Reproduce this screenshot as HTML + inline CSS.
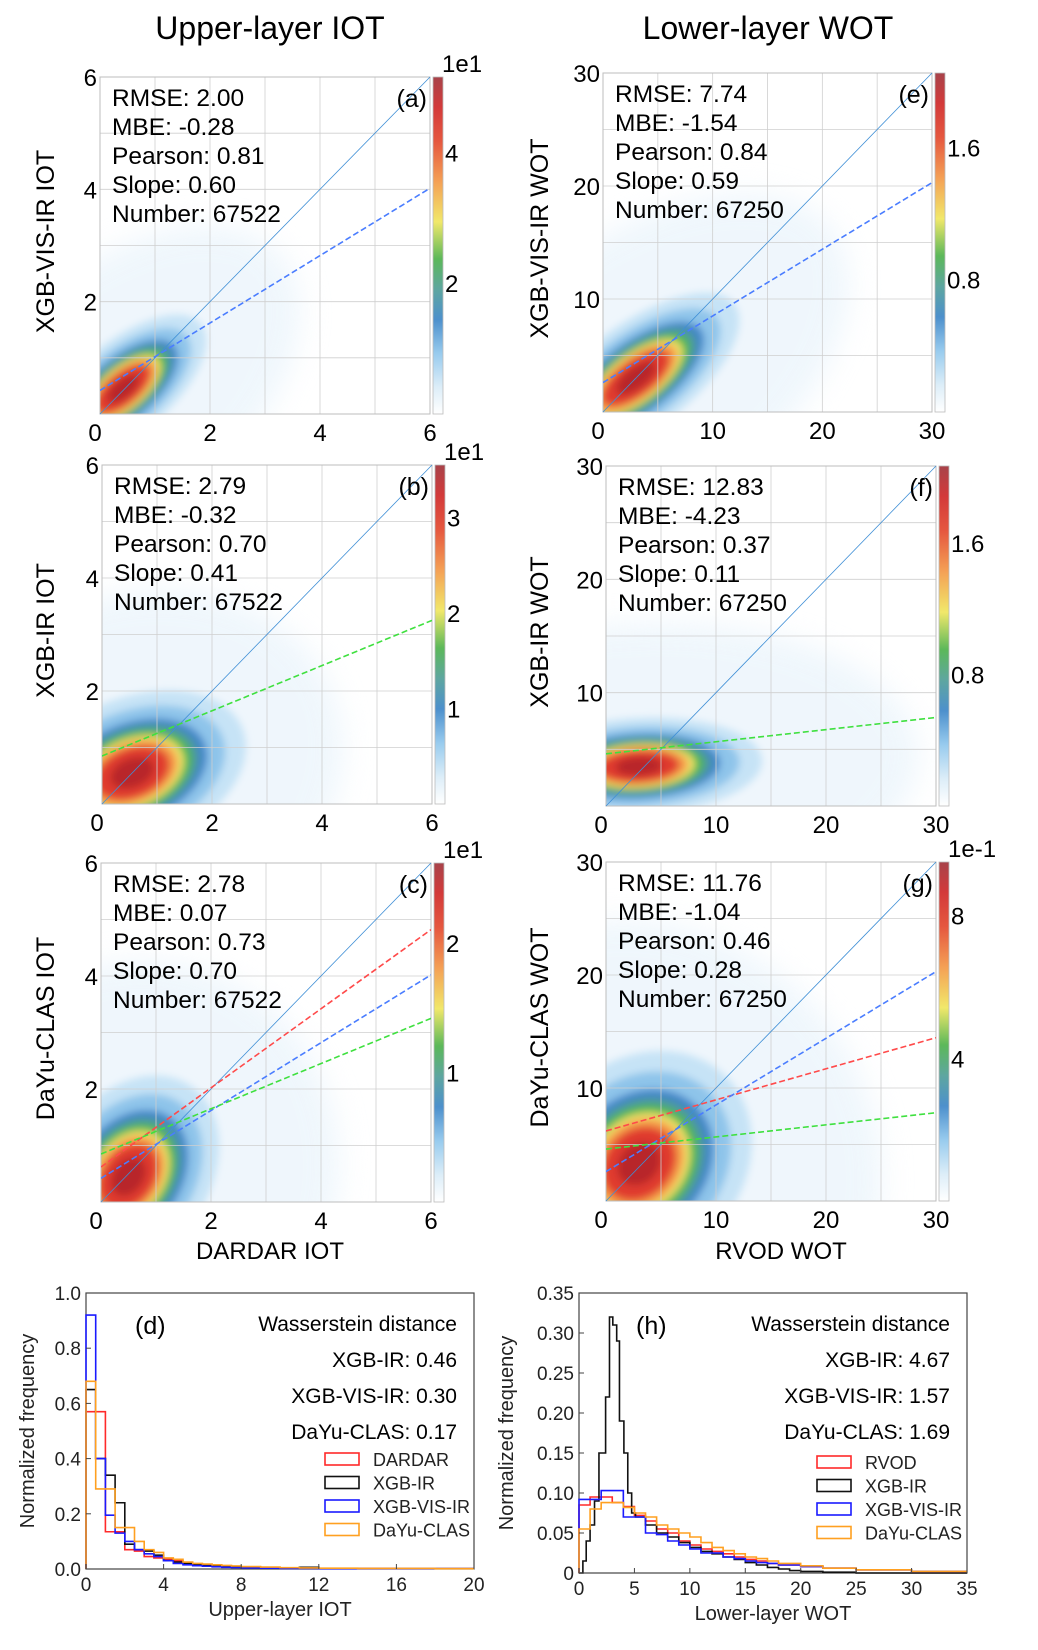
<!DOCTYPE html>
<html><head><meta charset="utf-8">
<style>
html,body{margin:0;padding:0;background:#fff;}
svg{display:block;font-family:"Liberation Sans",Arial,sans-serif;}
</style></head>
<body>
<svg id="fig" width="1038" height="1650" viewBox="0 0 1038 1650">
<defs>
<linearGradient id="cmap" x1="0" y1="1" x2="0" y2="0">
<stop offset="0" stop-color="#ffffff"/>
<stop offset="0.08" stop-color="#dcedf8"/>
<stop offset="0.18" stop-color="#98cbee"/>
<stop offset="0.28" stop-color="#4d90cc"/>
<stop offset="0.37" stop-color="#5ea6a0"/>
<stop offset="0.46" stop-color="#5cb85a"/>
<stop offset="0.57" stop-color="#f1e86a"/>
<stop offset="0.69" stop-color="#f4a055"/>
<stop offset="0.81" stop-color="#e5573f"/>
<stop offset="0.91" stop-color="#d33a3a"/>
<stop offset="1" stop-color="#a8434a"/>
</linearGradient>
<filter id="blur" x="-50%" y="-50%" width="200%" height="200%"><feGaussianBlur stdDeviation="4"/></filter>
<filter id="blur2" x="-50%" y="-50%" width="200%" height="200%"><feGaussianBlur stdDeviation="14"/></filter>
</defs>
<text x="270" y="39" font-size="32" text-anchor="middle">Upper-layer IOT</text>
<text x="768" y="39" font-size="32" text-anchor="middle">Lower-layer WOT</text>
<text x="270" y="1259" font-size="24" text-anchor="middle">DARDAR IOT</text>
<text x="781" y="1259" font-size="24" text-anchor="middle">RVOD WOT</text>
</svg>
<script>
// ---------- scatter panel data ----------
const panelLetters = ['a','b','c','e','f','g'];
const axisMax = [6, 6, 6, 30, 30, 30];
const yTitles = ['XGB-VIS-IR IOT','XGB-IR IOT','DaYu-CLAS  IOT','XGB-VIS-IR WOT','XGB-IR WOT','DaYu-CLAS WOT'];
const axisTicks = [[0,2,4,6],[0,2,4,6],[0,2,4,6],[0,10,20,30],[0,10,20,30],[0,10,20,30]];
const gridVals = [[1,2,3,4,5],[1,2,3,4,5],[1,2,3,4,5],[5,10,15,20,25],[5,10,15,20,25],[5,10,15,20,25]];
const statRMSE = ['2.00','2.79','2.78','7.74','12.83','11.76'];
const statMBE = ['-0.28','-0.32','0.07','-1.54','-4.23','-1.04'];
const statPearson = ['0.81','0.70','0.73','0.84','0.37','0.46'];
const statSlope = ['0.60','0.41','0.70','0.59','0.11','0.28'];
const statNumber = ['67522','67522','67522','67250','67250','67250'];
const fitPanel = [0, 1, 2, 2, 2, 3, 4, 5, 5, 5];
const fitSeries = ['vis','ir','dayu','vis','ir','vis','ir','dayu','vis','ir'];
const fitIntercept = [0.42, 0.85, 0.62, 0.42, 0.85, 2.6, 4.6, 6.2, 2.6, 4.6];
const fitSlope = [0.60, 0.40, 0.70, 0.60, 0.40, 0.59, 0.107, 0.275, 0.59, 0.107];
const cbMax = [5.15, 3.55, 2.62, 2.05, 2.07, 9.5];
const cbTicks = [[2,4],[1,2,3],[1,2],[0.8,1.6],[0.8,1.6],[4,8]];
const cbExp = ['1e1','1e1','1e1','','','1e-1'];
const blobCx = [0.42, 0.55, 0.5, 3.0, 3.0, 3.0];
const blobCy = [0.45, 0.55, 0.45, 3.0, 3.5, 3.3];

// ---------- layout / style (not data) ----------
const boxes = [
 {x:100,y:77,w:330,h:337},{x:102,y:465,w:330,h:339},{x:101,y:863,w:330,h:339},
 {x:603,y:73,w:329,h:339},{x:606,y:466,w:330,h:340},{x:606,y:862,w:330,h:339}];
const yTitleX = [54,54,54,548,548,548];
const blobShape = [
 {rx:46,ry:21,ang:-40,haze:4.5},{rx:54,ry:34,ang:-22,haze:4.0},{rx:50,ry:36,ang:-55,haze:4.4},
 {rx:56,ry:24,ang:-37,haze:4.4},{rx:56,ry:22,ang:-3,haze:5.0},{rx:56,ry:46,ang:-45,haze:4.2}];
const fitColors = {vis:'#4a7dff', ir:'#3fe03f', dayu:'#ff4a4a'};
const levelScale = [2.2,1.8,1.45,1.28,1.15,1.0,0.88,0.72,0.42];
const levelColor = ['#c6e3f6','#8ec4ea','#3f85c8','#4f9c98','#4fb84f','#f2e46a','#f59a4a','#e03a2e','#b8262a'];

const NS = 'http://www.w3.org/2000/svg';
const fig = document.getElementById('fig');
function mk(tag, attrs, parent){
  const e = document.createElementNS(NS, tag);
  for (const k in attrs) e.setAttribute(k, attrs[k]);
  (parent||fig).appendChild(e);
  return e;
}

panelLetters.forEach((L, i) => {
  const b = boxes[i], M = axisMax[i];
  const sx = v => b.x + v / M * b.w;
  const sy = v => b.y + b.h - v / M * b.h;
  const g = mk('g', {});
  
  
  const clipId = 'clip' + L;
  const cp = mk('clipPath', {id: clipId}, g);
  mk('rect', {x:b.x, y:b.y, width:b.w, height:b.h}, cp);
  const dg = mk('g', {'clip-path':'url(#' + clipId + ')'}, g);
  
  
  const cx = sx(blobCx[i]), cy = sy(blobCy[i]), s = blobShape[i];
  const haze = mk('ellipse', {cx:cx, cy:cy, rx:s.rx*s.haze, ry:s.ry*s.haze*1.3, fill:'#e2f0fa', opacity:0.55, filter:'url(#blur2)', transform:'rotate(' + s.ang + ' ' + cx + ' ' + cy + ')'}, dg);
  
  
  const inner = mk('g', {filter:'url(#blur)'}, dg);
  levelScale.forEach((sc, k) => {
    const el = mk('ellipse', {cx:cx, cy:cy, rx:s.rx*sc, ry:s.ry*sc, fill:levelColor[k], transform:'rotate(' + s.ang + ' ' + cx + ' ' + cy + ')'}, inner);
    
    
  });
  gridVals[i].forEach(v => {
    const gx = mk('line', {x1:sx(v), x2:sx(v), y1:b.y, y2:b.y+b.h, stroke:'#cfcfcf', 'stroke-width':0.8}, g);
    
    
    const gy = mk('line', {x1:b.x, x2:b.x+b.w, y1:sy(v), y2:sy(v), stroke:'#cfcfcf', 'stroke-width':0.8}, g);
    
    
  });
  const fr = mk('rect', {x:b.x, y:b.y, width:b.w, height:b.h, fill:'none', stroke:'#bdbdbd', 'stroke-width':1}, g);
  
  
  const one = mk('line', {x1:sx(0), y1:sy(0), x2:sx(M), y2:sy(M), stroke:'#3f8fd6', 'stroke-width':0.8}, g);
  
  
  fitPanel.forEach((p, j) => {
    if (p !== i) return;
    const fl = mk('line', {x1:sx(0), y1:sy(fitIntercept[j]), x2:sx(M), y2:sy(fitIntercept[j] + fitSlope[j]*M), stroke:fitColors[fitSeries[j]], 'stroke-width':1.6, 'stroke-dasharray':'6 3', 'clip-path':'url(#' + clipId + ')'}, g);
    
    
  });
  axisTicks[i].forEach(v => {
    const tx = mk('text', {x:sx(v) - (v===0?5:0), y:b.y+b.h+27, 'font-size':24, 'text-anchor':'middle'}, g);
    tx.textContent = v;
    
    
    if (v === 0) return;
    const ty = mk('text', {x:b.x-3, y:sy(v)+9, 'font-size':24, 'text-anchor':'end'}, g);
    ty.textContent = v;
    
    
  });
  const ycy = b.y + b.h/2 - 4;
  const yt = mk('text', {x:yTitleX[i], y:ycy, 'font-size':25, 'text-anchor':'middle', transform:'rotate(-90 ' + yTitleX[i] + ' ' + ycy + ')', 'xml:space':'preserve'}, g);
  yt.textContent = yTitles[i];
  
  
  const lines = ['RMSE: ' + statRMSE[i], 'MBE: ' + statMBE[i], 'Pearson: ' + statPearson[i], 'Slope: ' + statSlope[i], 'Number: ' + statNumber[i]];
  lines.forEach((t, k) => {
    const st = mk('text', {x:b.x+12, y:b.y+29+k*29, 'font-size':24.5}, g);
    st.textContent = t;
    
    
  });
  const pl = mk('text', {x:b.x+b.w-3, y:b.y+30, 'font-size':25, 'text-anchor':'end'}, g);
  pl.textContent = '(' + L + ')';
  
  
  const cbx = b.x + b.w + 3;
  const cb = mk('rect', {x:cbx, y:b.y, width:10, height:b.h, fill:'url(#cmap)', stroke:'#bbb', 'stroke-width':0.8}, g);
  
  
  cbTicks[i].forEach(v => {
    const yy = b.y + b.h - v / cbMax[i] * b.h;
    const ct = mk('text', {x:cbx+12, y:yy+9, 'font-size':24}, g);
    ct.textContent = v;
    
    
  });
  if (cbExp[i]) {
    const ce = mk('text', {x:cbx+9, y:b.y-5, 'font-size':24}, g);
    ce.textContent = cbExp[i];
    
    
  }
});

// ---------- histogram data ----------
const histD_edges = [0,0.5,1,1.5,2,2.5,3,3.5,4,4.5,5,5.5,6,6.5,7,7.5,8,9,10,11,12,14,16,18,20];
const histD_dardar = [0.57,0.57,0.135,0.135,0.07,0.065,0.045,0.04,0.035,0.03,0.022,0.018,0.015,0.013,0.011,0.009,0.007,0.005,0.004,0.003,0.002,0.002,0.001,0.001];
const histD_xgbir = [0.65,0.40,0.34,0.24,0.09,0.07,0.065,0.05,0.03,0.025,0.02,0.016,0.013,0.01,0.008,0.007,0.005,0.004,0.003,0.006,0.002,0.001,0.001,0.001];
const histD_xgbvis = [0.92,0.40,0.195,0.13,0.10,0.07,0.055,0.045,0.03,0.02,0.015,0.012,0.01,0.008,0.006,0.005,0.004,0.003,0.002,0.002,0.001,0.001,0.001,0.001];
const histD_dayu = [0.68,0.29,0.29,0.15,0.15,0.10,0.07,0.06,0.04,0.035,0.025,0.02,0.018,0.015,0.013,0.011,0.009,0.007,0.005,0.004,0.003,0.002,0.002,0.001];
const histH_edgesBlack = [0,0.35,0.65,1.0,1.4,1.8,2.4,2.75,3.05,3.4,3.65,4.05,4.4,4.75,5.1,6,7,8,9,10,11,12,13,14,15,16,17,18,19,20,22,25,35];
const histH_xgbir = [0,0.015,0.04,0.06,0.09,0.15,0.22,0.32,0.31,0.29,0.19,0.15,0.10,0.075,0.07,0.06,0.05,0.045,0.038,0.032,0.027,0.024,0.02,0.017,0.013,0.01,0.007,0.005,0.003,0.002,0.001,0];
const histH_edges = [0,1,2,3,4,5,6,7,8,9,10,11,12,13,14,15,16,17,18,20,22,25,30,35];
const histH_rvod = [0.085,0.095,0.095,0.088,0.083,0.072,0.065,0.055,0.05,0.04,0.035,0.03,0.027,0.024,0.02,0.017,0.015,0.012,0.01,0.008,0.006,0.004,0.002];
const histH_xgbvis = [0.092,0.092,0.103,0.103,0.07,0.07,0.05,0.048,0.04,0.035,0.03,0.025,0.025,0.02,0.018,0.015,0.013,0.012,0.01,0.008,0.006,0.004,0.002];
const histH_dayu = [0.055,0.08,0.088,0.088,0.082,0.075,0.07,0.06,0.055,0.05,0.045,0.038,0.032,0.028,0.024,0.02,0.018,0.015,0.012,0.009,0.006,0.004,0.002];
const histD_xticks = [0,4,8,12,16,20];
const histD_yticks = [0,0.2,0.4,0.6,0.8,1.0];
const histD_ylabels = ['0.0','0.2','0.4','0.6','0.8','1.0'];
const histH_xticks = [0,5,10,15,20,25,30,35];
const histH_yticks = [0,0.05,0.10,0.15,0.20,0.25,0.30,0.35];
const histH_ylabels = ['0','0.05','0.10','0.15','0.20','0.25','0.30','0.35'];
const histD_wd = ['XGB-IR: 0.46','XGB-VIS-IR: 0.30','DaYu-CLAS: 0.17'];
const histH_wd = ['XGB-IR: 4.67','XGB-VIS-IR: 1.57','DaYu-CLAS: 1.69'];

function drawHist(cfg) {
  const b = cfg.box;
  const sx = v => b.x + v / cfg.xmax * b.w;
  const sy = v => b.y + b.h - v / cfg.ymax * b.h;
  const g = mk('g', {});
  
  
  const fr = mk('rect', {x:b.x, y:b.y, width:b.w, height:b.h, fill:'none', stroke:'#444', 'stroke-width':1.2}, g);
  
  
  cfg.series.forEach(s => {
    let d = 'M' + sx(s.edges[0]) + ' ' + sy(0);
    const n = Math.min(s.vals.length, s.edges.length - 1);
    for (let k = 0; k < n; k++) {
      d += ' L' + sx(s.edges[k]) + ' ' + sy(s.vals[k]) + ' L' + sx(s.edges[k+1]) + ' ' + sy(s.vals[k]);
    }
    const p = mk('path', {d:d, fill:'none', stroke:s.color, 'stroke-width':1.6}, g);
    
    
  });
  cfg.xticks.forEach(v => {
    const tk = mk('line', {x1:sx(v), x2:sx(v), y1:b.y+b.h, y2:b.y+b.h-5, stroke:'#444', 'stroke-width':1}, g);
    
    
    const t = mk('text', {x:sx(v), y:b.y+b.h+22, 'font-size':19, 'text-anchor':'middle', fill:'#222'}, g);
    t.textContent = v;
    
    
  });
  cfg.yticks.forEach((v, k) => {
    const tk = mk('line', {x1:b.x, x2:b.x+5, y1:sy(v), y2:sy(v), stroke:'#444', 'stroke-width':1}, g);
    
    
    const t = mk('text', {x:b.x-5, y:sy(v)+7, 'font-size':19, 'text-anchor':'end', fill:'#222'}, g);
    t.textContent = cfg.ylabels[k];
    
    
  });
  const xt = mk('text', {x:b.x + b.w/2, y:b.y+b.h+47, 'font-size':20, 'text-anchor':'middle', fill:'#222'}, g);
  xt.textContent = cfg.xtitle;
  
  
  const yc = b.y + b.h/2;
  const yt = mk('text', {x:cfg.ytx, y:yc, 'font-size':20, 'text-anchor':'middle', fill:'#222', transform:'rotate(-90 ' + cfg.ytx + ' ' + yc + ')'}, g);
  yt.textContent = 'Normalized frequency';
  
  
  const pl = mk('text', {x:cfg.labelX, y:b.y+41, 'font-size':25}, g);
  pl.textContent = '(' + cfg.letter + ')';
  
  
  const rx = b.x + b.w - 17;
  const wt = mk('text', {x:rx, y:b.y+38, 'font-size':21, 'text-anchor':'end'}, g);
  wt.textContent = 'Wasserstein distance';
  
  
  cfg.wd.forEach((t, k) => {
    const w = mk('text', {x:rx, y:b.y+74+k*36, 'font-size':21, 'text-anchor':'end'}, g);
    w.textContent = t;
    
    
  });
  cfg.series.forEach((s, k) => {
    const ly = b.y + cfg.legY + k*23.5;
    const lg = mk('g', {}, g);
    
    
    mk('rect', {x:cfg.legX, y:ly-6, width:34, height:12, fill:'none', stroke:s.color, 'stroke-width':1.6}, lg);
    const lt = mk('text', {x:cfg.legX+48, y:ly+7, 'font-size':18, fill:'#222'}, lg);
    lt.textContent = s.label;
  });
}

drawHist({letter:'d', box:{x:86,y:1293,w:388,h:276}, xmax:20, ymax:1.0,
  xticks:histD_xticks, yticks:histD_yticks, ylabels:histD_ylabels, xtitle:'Upper-layer IOT', ytx:34, labelX:135,
  wd:histD_wd, legX:325, legY:166,
  series:[
    {key:'dardar', label:'DARDAR', color:'#ff2a2a', edges:histD_edges, vals:histD_dardar},
    {key:'xgb-ir', label:'XGB-IR', color:'#111', edges:histD_edges, vals:histD_xgbir},
    {key:'xgb-vis-ir', label:'XGB-VIS-IR', color:'#1a1aff', edges:histD_edges, vals:histD_xgbvis},
    {key:'dayu-clas', label:'DaYu-CLAS', color:'#ffa020', edges:histD_edges, vals:histD_dayu}]});
drawHist({letter:'h', box:{x:579,y:1293,w:388,h:280}, xmax:35, ymax:0.35,
  xticks:histH_xticks, yticks:histH_yticks, ylabels:histH_ylabels, xtitle:'Lower-layer WOT', ytx:513, labelX:636,
  wd:histH_wd, legX:817, legY:169,
  series:[
    {key:'rvod', label:'RVOD', color:'#ff2a2a', edges:histH_edges, vals:histH_rvod},
    {key:'xgb-ir', label:'XGB-IR', color:'#111', edges:histH_edgesBlack, vals:histH_xgbir},
    {key:'xgb-vis-ir', label:'XGB-VIS-IR', color:'#1a1aff', edges:histH_edges, vals:histH_xgbvis},
    {key:'dayu-clas', label:'DaYu-CLAS', color:'#ffa020', edges:histH_edges, vals:histH_dayu}]});
</script>
</body></html>
